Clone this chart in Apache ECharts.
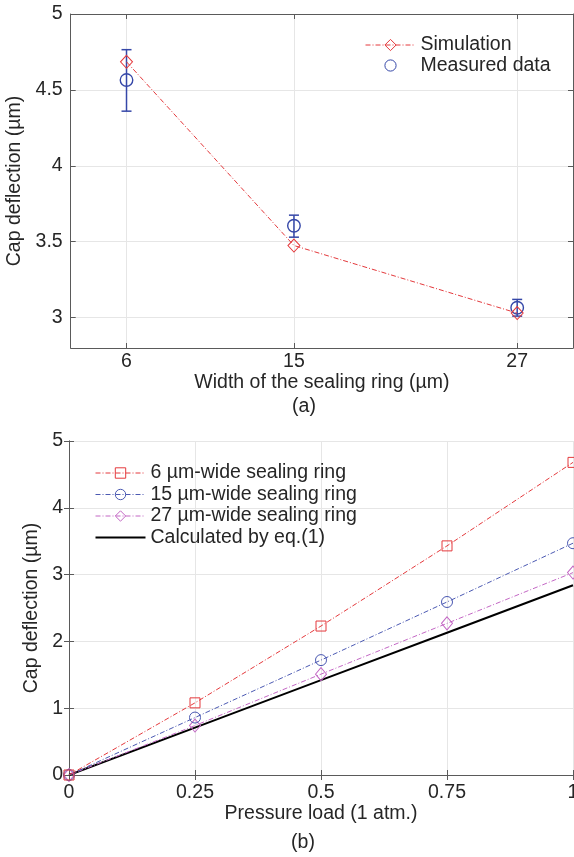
<!DOCTYPE html>
<html>
<head>
<meta charset="utf-8">
<script src="https://cdn.jsdelivr.net/npm/echarts@6/dist/echarts.min.js"></script>
<style>
html,body{margin:0;padding:0;background:#fff;}
#chart{width:574px;height:857px;}
</style>
</head>
<body>
<div id="chart"></div>
<script>
// ---- Data (a) ----
const widths = [6, 15, 27];
const simulation = [4.685, 3.475, 3.03];
const measured = [4.565, 3.605, 3.065];
const measuredLow = [4.36, 3.53, 3.01];
const measuredHigh = [4.765, 3.675, 3.12];
const widthTicks = [6, 15, 27];
const deflectionTicksA = [3, 3.5, 4, 4.5, 5];

// ---- Data (b) ----
const pressure = [0, 0.25, 0.5, 0.75, 1];
const ring6 = [0, 1.08, 2.23, 3.43, 4.68];
const ring15 = [0, 0.86, 1.72, 2.59, 3.47];
const ring27 = [0, 0.74, 1.51, 2.27, 3.03];
const calculated = [0, 0.71, 1.42, 2.13, 2.84];

const FONT = '"Liberation Sans", Arial, Helvetica, sans-serif';
const TXT = '#262626';
const AX = '#5a5a5a';
const GRIDC = '#e6e6e6';
const RED = '#e4393c';
const BLUE = '#3547a8';
const BLUE2 = '#4b59b2';
const MAG = '#c367c4';
const FS = 19.5;
const DASHDOT = [5, 2, 1, 2];

const chart = echarts.init(document.getElementById('chart'), null, {renderer: 'canvas'});

function pairs(xs, ys) { return xs.map((x, i) => [x, ys[i]]); }

const axisLineStyle = {show: true, lineStyle: {color: AX, width: 1}};
const tickStyle = {show: true, inside: true, length: 5, lineStyle: {color: AX, width: 1}};

const option = {
  backgroundColor: '#fff',
  animation: false,
  textStyle: {fontFamily: FONT, color: TXT},
  grid: [
    {left: 70.7, top: 14, right: 1, bottom: 509, containLabel: false, outerBoundsMode: 'none'},
    {left: 69, top: 441, right: 1, bottom: 82, containLabel: false, outerBoundsMode: 'none'}
  ],
  legend: [
    {
      data: ['Simulation', 'Measured data'],
      orient: 'vertical', left: 365, top: 35, padding: 0,
      itemWidth: 50, itemHeight: 14, itemGap: 0.5,
      itemStyle: {borderWidth: 1},
      lineStyle: {width: 1},
      textStyle: {fontFamily: FONT, fontSize: FS, color: TXT},
      selectedMode: false
    },
    {
      data: ['6 µm-wide sealing ring', '15 µm-wide sealing ring', '27 µm-wide sealing ring',
             {name: 'Calculated by eq.(1)', icon: 'path://M0,0L50,0L50,2L0,2Z', itemStyle: {color: '#000', borderWidth: 0}}],
      orient: 'vertical', left: 95, top: 463, padding: 0,
      itemWidth: 50, itemHeight: 13, itemGap: 1.5,
      itemStyle: {borderWidth: 1},
      lineStyle: {width: 1},
      textStyle: {fontFamily: FONT, fontSize: FS, color: TXT},
      selectedMode: false
    }
  ],
  xAxis: [
    {
      type: 'value', gridIndex: 0, min: 3, max: 30, position: 'bottom',
      axisLine: axisLineStyle,
      axisTick: Object.assign({customValues: widthTicks}, tickStyle),
      axisLabel: {customValues: widthTicks, fontFamily: FONT, fontSize: FS, color: TXT, margin: 4},
      splitLine: {show: true, lineStyle: {color: GRIDC, width: 1}},
      name: 'Width of the sealing ring (µm)', nameLocation: 'middle', nameGap: 24,
      nameTextStyle: {fontFamily: FONT, fontSize: FS, color: TXT}
    },
    {
      type: 'value', gridIndex: 0, min: 3, max: 30, position: 'top',
      axisLine: axisLineStyle,
      axisTick: Object.assign({customValues: widthTicks}, tickStyle),
      axisLabel: {show: false},
      splitLine: {show: false}
    },
    {
      type: 'value', gridIndex: 1, min: 0, max: 1, interval: 0.25, position: 'bottom',
      axisLine: axisLineStyle,
      axisTick: tickStyle,
      axisLabel: {fontFamily: FONT, fontSize: FS, color: TXT, margin: 8},
      splitLine: {show: true, lineStyle: {color: GRIDC, width: 1}},
      name: 'Pressure load (1 atm.)', nameLocation: 'middle', nameGap: 29,
      nameTextStyle: {fontFamily: FONT, fontSize: FS, color: TXT}
    },
    {
      type: 'value', gridIndex: 1, min: 0, max: 1, interval: 0.25, position: 'top',
      axisLine: axisLineStyle,
      axisTick: tickStyle,
      axisLabel: {show: false},
      splitLine: {show: false}
    }
  ],
  yAxis: [
    {
      type: 'value', gridIndex: 0, min: 2.8, max: 5, position: 'left',
      axisLine: axisLineStyle,
      axisTick: Object.assign({customValues: deflectionTicksA}, tickStyle),
      axisLabel: {customValues: deflectionTicksA, fontFamily: FONT, fontSize: FS, color: TXT, margin: 8},
      splitLine: {show: true, lineStyle: {color: GRIDC, width: 1}},
      name: 'Cap deflection (µm)', nameLocation: 'middle', nameGap: 38,
      nameTextStyle: {fontFamily: FONT, fontSize: FS, color: TXT}
    },
    {
      type: 'value', gridIndex: 0, min: 2.8, max: 5, position: 'right',
      axisLine: axisLineStyle,
      axisTick: Object.assign({customValues: deflectionTicksA}, tickStyle),
      axisLabel: {show: false},
      splitLine: {show: false}
    },
    {
      type: 'value', gridIndex: 1, min: 0, max: 5, interval: 1, position: 'left',
      axisLine: axisLineStyle,
      axisTick: tickStyle,
      axisLabel: {fontFamily: FONT, fontSize: FS, color: TXT, margin: 6},
      splitLine: {show: true, lineStyle: {color: GRIDC, width: 1}},
      name: 'Cap deflection (µm)', nameLocation: 'middle', nameGap: 16,
      nameTextStyle: {fontFamily: FONT, fontSize: FS, color: TXT}
    },
    {
      type: 'value', gridIndex: 1, min: 0, max: 5, interval: 1, position: 'right',
      axisLine: axisLineStyle,
      axisTick: tickStyle,
      axisLabel: {show: false},
      splitLine: {show: false}
    }
  ],
  graphic: [
    {type: 'text', x: 304, y: 407, style: {text: '(a)', font: FS + 'px ' + FONT, fill: TXT, align: 'center', verticalAlign: 'middle'}},
    {type: 'text', x: 303, y: 843, style: {text: '(b)', font: FS + 'px ' + FONT, fill: TXT, align: 'center', verticalAlign: 'middle'}}
  ],
  series: [
    {
      name: 'errorbars', type: 'custom', xAxisIndex: 0, yAxisIndex: 0,
      data: widths.map((w, i) => [w, measuredLow[i], measuredHigh[i]]),
      encode: {x: 0, y: [1, 2]},
      renderItem: function (params, api) {
        const x = api.value(0);
        const lo = api.coord([x, api.value(1)]);
        const hi = api.coord([x, api.value(2)]);
        const cap = 5;
        const st = {stroke: BLUE, lineWidth: 1.5};
        return {type: 'group', children: [
          {type: 'line', shape: {x1: lo[0], y1: lo[1], x2: hi[0], y2: hi[1]}, style: st},
          {type: 'line', shape: {x1: lo[0] - cap, y1: lo[1], x2: lo[0] + cap, y2: lo[1]}, style: st},
          {type: 'line', shape: {x1: hi[0] - cap, y1: hi[1], x2: hi[0] + cap, y2: hi[1]}, style: st}
        ]};
      },
      z: 2
    },
    {
      name: 'Measured data', type: 'line', xAxisIndex: 0, yAxisIndex: 0,
      data: pairs(widths, measured),
      symbol: 'circle', symbolSize: 12.5,
      lineStyle: {color: BLUE, width: 0, opacity: 0},
      itemStyle: {color: 'rgba(255,255,255,0)', borderColor: BLUE, borderWidth: 1.4},
      z: 3
    },
    {
      name: 'Simulation', type: 'line', xAxisIndex: 0, yAxisIndex: 0,
      data: pairs(widths, simulation),
      symbol: 'diamond', symbolSize: [12, 13],
      lineStyle: {color: RED, width: 1, type: DASHDOT},
      itemStyle: {color: 'rgba(255,255,255,0)', borderColor: RED, borderWidth: 1},
      z: 4
    },
    {
      name: 'Calculated by eq.(1)', type: 'line', xAxisIndex: 2, yAxisIndex: 2,
      data: pairs(pressure, calculated),
      symbol: 'none', showSymbol: false,
      lineStyle: {color: '#000', width: 2},
      itemStyle: {color: '#000'},
      z: 2
    },
    {
      name: '27 µm-wide sealing ring', type: 'line', xAxisIndex: 2, yAxisIndex: 2,
      data: pairs(pressure, ring27),
      symbol: 'diamond', symbolSize: [11, 13],
      lineStyle: {color: MAG, width: 1, type: DASHDOT},
      itemStyle: {color: 'rgba(255,255,255,0)', borderColor: MAG, borderWidth: 1},
      z: 3
    },
    {
      name: '15 µm-wide sealing ring', type: 'line', xAxisIndex: 2, yAxisIndex: 2,
      data: pairs(pressure, ring15),
      symbol: 'circle', symbolSize: 11,
      lineStyle: {color: BLUE2, width: 1, type: DASHDOT},
      itemStyle: {color: 'rgba(255,255,255,0)', borderColor: BLUE2, borderWidth: 1},
      z: 3
    },
    {
      name: '6 µm-wide sealing ring', type: 'line', xAxisIndex: 2, yAxisIndex: 2,
      data: pairs(pressure, ring6),
      symbol: 'rect', symbolSize: 10,
      lineStyle: {color: RED, width: 1, type: DASHDOT},
      itemStyle: {color: 'rgba(255,255,255,0)', borderColor: RED, borderWidth: 1},
      z: 3
    }
  ]
};
chart.setOption(option);
</script>
</body>
</html>
